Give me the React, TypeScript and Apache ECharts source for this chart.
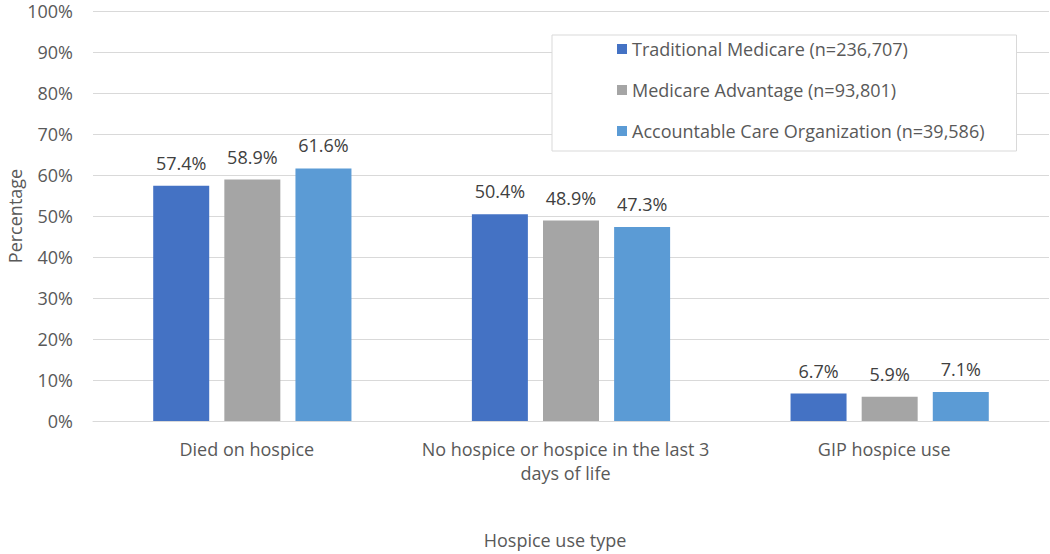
import React, { useEffect, useRef } from "react";
import * as echarts from "echarts";

const categories = ["Died on hospice", "No hospice or hospice in the last 3\ndays of life", "GIP hospice use"];
const seriesNames = [
  "Traditional Medicare (n=236,707)",
  "Medicare Advantage (n=93,801)",
  "Accountable Care Organization (n=39,586)",
];
const traditional = [57.4, 50.4, 6.7];
const advantage = [58.9, 48.9, 5.9];
const aco = [61.6, 47.3, 7.1];
const colors = ["#4472C4", "#A5A5A5", "#5B9BD5"];

const FONT = "Open Sans";

export default function App() {
  const ref = useRef<HTMLDivElement>(null);
  useEffect(() => {
    if (!ref.current) return;
    const chart = echarts.init(ref.current, undefined, { renderer: "svg" });
    const values = [traditional, advantage, aco];
    chart.setOption({
      animation: false,
      textStyle: { fontFamily: FONT },
      grid: { left: 93, right: 1, top: 11, bottom: 133, containLabel: false, outerBoundsMode: "none" },
      legend: {
        orient: "vertical",
        left: 552,
        top: 35,
        padding: [5, 32, 11, 65],
        itemGap: 23,
        itemWidth: 10,
        itemHeight: 10,
        icon: "rect",
        borderColor: "#d9d9d9",
        borderWidth: 1,
        backgroundColor: "#fff",
        textStyle: { fontFamily: FONT, fontSize: 18, color: "#595959", lineHeight: 18 },
        data: seriesNames,
      },
      xAxis: {
        type: "category",
        data: categories,
        name: "Hospice use type",
        nameLocation: "middle",
        nameGap: 110,
        nameMoveOverlap: false,
        nameTextStyle: { fontFamily: FONT, fontSize: 18, color: "#595959", padding: [0, 32, 0, 0] },
        axisLine: { lineStyle: { color: "#d9d9d9" } },
        axisTick: { show: false },
        axisLabel: {
          interval: 0,
          fontFamily: FONT,
          fontSize: 18,
          color: "#595959",
          margin: 16,
          lineHeight: 24,
          padding: [0, 11, 0, 0],
        },
      },
      yAxis: {
        type: "value",
        min: 0,
        max: 100,
        interval: 10,
        name: "Percentage",
        nameLocation: "middle",
        nameGap: 68,
        nameMoveOverlap: false,
        nameTextStyle: { fontFamily: FONT, fontSize: 18, lineHeight: 20, color: "#595959" },
        axisLabel: { fontFamily: FONT, fontSize: 18, lineHeight: 14, color: "#595959", margin: 20, formatter: "{value}%" },
        splitLine: { lineStyle: { color: "#d9d9d9" } },
        axisLine: { show: false },
        axisTick: { show: false },
      },
      series: seriesNames.map((name, i) => ({
        name,
        type: "bar",
        data: values[i],
        barWidth: 56,
        barGap: "27%",
        itemStyle: { color: colors[i] },
        label: {
          show: true,
          position: "top",
          distance: 14,
          fontFamily: FONT,
          fontSize: 18,
          color: "#404040",
          formatter: (p: any) => `${p.value.toFixed(1)}%`,
        },
      })),
    });
    return () => chart.dispose();
  }, []);
  return (
    <div
      ref={ref}
      style={{ position: "absolute", left: 0, top: 0, width: 1050, height: 554, background: "#fff" }}
    />
  );
}
